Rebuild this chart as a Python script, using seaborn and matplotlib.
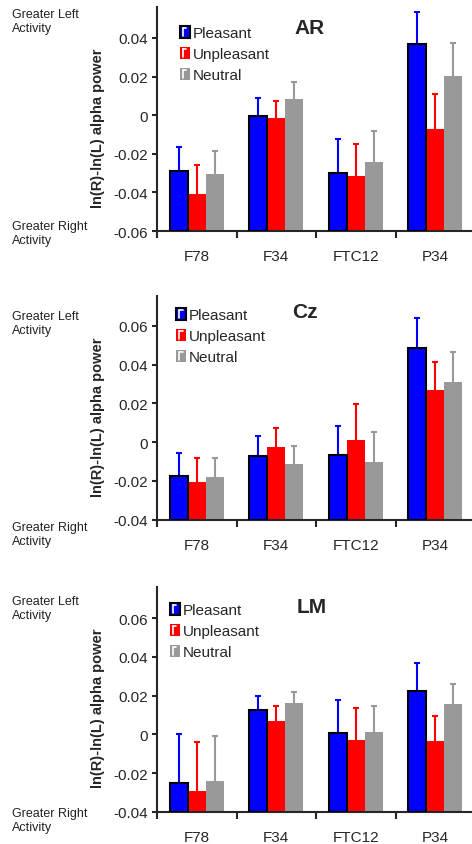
import numpy as np
import pandas as pd
import matplotlib
matplotlib.use("Agg")
import matplotlib.pyplot as plt
import seaborn as sns
from matplotlib.patches import Patch, Rectangle
from matplotlib.lines import Line2D
from matplotlib.legend_handler import HandlerBase
from matplotlib.ticker import FuncFormatter

# ---------------------------------------------------------------------------
# Data: bar means and standard errors
# rows = condition, cols = site
# ---------------------------------------------------------------------------

sites = ["F78", "F34", "FTC12", "P34"]
conditions = ["Pleasant", "Unpleasant", "Neutral"]
colors = ["#0000ff", "#ff0000", "#999999"]
panel_titles = ["AR", "Cz", "LM"]

ar_means = [[-0.0290, -0.0005, -0.0300, 0.0367],
            [-0.0407, -0.0014, -0.0314, -0.0071],
            [-0.0303, 0.0084, -0.0241, 0.0202]]
ar_se = [[0.0123, 0.0096, 0.0174, 0.0169],
         [0.0150, 0.0085, 0.0167, 0.0181],
         [0.0115, 0.0090, 0.0157, 0.0169]]

cz_means = [[-0.0173, -0.0070, -0.0065, 0.0485],
            [-0.0206, -0.0027, 0.0009, 0.0267],
            [-0.0182, -0.0115, -0.0104, 0.0308]]
cz_se = [[0.0115, 0.0103, 0.0150, 0.0155],
         [0.0126, 0.0101, 0.0187, 0.0147],
         [0.0102, 0.0096, 0.0156, 0.0158]]

lm_means = [[-0.0250, 0.0124, 0.0009, 0.0226],
            [-0.0295, 0.0069, -0.0031, -0.0036],
            [-0.0243, 0.0160, 0.0010, 0.0155]]
lm_se = [[0.0252, 0.0074, 0.0170, 0.0141],
         [0.0254, 0.0079, 0.0169, 0.0133],
         [0.0234, 0.0061, 0.0137, 0.0107]]

ar_yticks = [-0.06, -0.04, -0.02, 0, 0.02, 0.04]
cz_yticks = [-0.04, -0.02, 0, 0.02, 0.04, 0.06]
lm_yticks = [-0.04, -0.02, 0, 0.02, 0.04, 0.06]

ylabel = "ln(R)-ln(L) alpha power"


class BarHandle(HandlerBase):
    """Legend key: filled box with a small white error-bar mark inside."""

    def create_artists(self, legend, orig, xdescent, ydescent, width, height,
                       fontsize, trans):
        x0, y0 = -xdescent, -ydescent
        rect = Rectangle((x0, y0), width, height, facecolor=orig.get_facecolor(),
                         edgecolor=orig.get_edgecolor(), linewidth=orig.get_linewidth(),
                         transform=trans)
        xv = x0 + width * 0.3
        vline = Line2D([xv, xv], [y0 + height * 0.15, y0 + height * 0.8],
                       color="white", lw=1.2, transform=trans)
        cap = Line2D([xv, x0 + width * 0.65], [y0 + height * 0.8] * 2,
                     color="white", lw=1.2, transform=trans)
        return [rect, vline, cap]


# ---------------------------------------------------------------------------
# Layout (pixels in a 472x845 canvas)
# ---------------------------------------------------------------------------

W, H = 472, 845
panels = [
    dict(title="AR", means=ar_means, se=ar_se, yticks=ar_yticks, ylim=(-0.06, 0.056),
         top=8, bottom=232, title_xy=(0.481, 0.91), leg_xy=(0.072, 0.915),
         left_txt=22, right_txt=234),
    dict(title="Cz", means=cz_means, se=cz_se, yticks=cz_yticks, ylim=(-0.04, 0.0755),
         top=296.7, bottom=520.7, title_xy=(0.465, 0.93), leg_xy=(0.06, 0.945),
         left_txt=324, right_txt=535),
    dict(title="LM", means=lm_means, se=lm_se, yticks=lm_yticks, ylim=(-0.04, 0.076),
         top=588.3, bottom=812.7, title_xy=(0.487, 0.914), leg_xy=(0.04, 0.93),
         left_txt=609, right_txt=821),
]

sns.set_style("ticks")
plt.rcParams["font.family"] = ["Liberation Sans", "DejaVu Sans"]
plt.rcParams["axes.unicode_minus"] = False

fig = plt.figure(figsize=(W / 100, H / 100), dpi=100)

for p in panels:
    rect = [157 / W, (H - p["bottom"]) / H, 318 / W, (p["bottom"] - p["top"]) / H]
    ax = fig.add_axes(rect)
    ymin = p["ylim"][0]

    rows = []
    for ci, cond in enumerate(conditions):
        for si, site in enumerate(sites):
            rows.append(dict(site=site, cond=cond,
                             value=p["means"][ci][si], se=p["se"][ci][si]))
    df = pd.DataFrame(rows)
    # bars rise from the bottom of the axis, not from zero
    df["height"] = df["value"] - ymin

    sns.barplot(data=df, x="site", y="height", hue="cond", order=sites,
                hue_order=conditions, palette=colors, saturation=1, width=0.68,
                errorbar=None, legend=False, bottom=ymin, linewidth=0,
                ax=ax, zorder=2)

    # upward-only error bars with small caps
    for ci, (cond, cont) in enumerate(zip(conditions, ax.containers)):
        sub = df[df["cond"] == cond].set_index("site").loc[sites]
        xs = np.array([b.get_x() + b.get_width() / 2 for b in cont])
        tops = sub["value"].values + sub["se"].values
        ax.vlines(xs, sub["value"].values, tops, color=colors[ci], lw=1.5, zorder=1)
        ax.hlines(tops, xs - 0.038, xs + 0.038, color=colors[ci], lw=1.5, zorder=1)
        if ci == 0:
            for b in cont:
                b.set_edgecolor("black")
                b.set_linewidth(1.5)
                b.set_zorder(3)

    ax.set_xlim(-0.5, 3.5)
    ax.set_ylim(*p["ylim"])
    ax.set_yticks(p["yticks"])
    ax.yaxis.set_major_formatter(FuncFormatter(lambda v, pos: f"{v:g}"))
    ax.set_xticks(range(len(sites)))
    ax.set_xticklabels(sites)
    ax.set_xticks([-0.5, 0.5, 1.5, 2.5, 3.5], minor=True)
    ax.tick_params(axis="x", which="major", length=0, pad=13, labelsize=11)
    ax.tick_params(axis="x", which="minor", length=5, width=1.5, direction="out")
    ax.tick_params(axis="y", which="major", length=3.5, width=1.5, pad=3, labelsize=11)
    ax.set_xlabel("")
    ax.set_ylabel(ylabel, fontsize=10.5, fontweight="bold")
    ax.yaxis.set_label_coords(-0.164, 0.464)

    sns.despine(ax=ax)
    for s in ["left", "bottom"]:
        ax.spines[s].set_linewidth(1.5)

    ax.text(*p["title_xy"], p["title"], transform=ax.transAxes, ha="center",
            va="center", fontsize=15, fontweight="bold")

    handles = [Patch(facecolor=c, edgecolor="black" if i == 0 else c,
                     linewidth=1.5 if i == 0 else 0)
               for i, c in enumerate(colors)]
    ax.legend(handles, conditions, loc="upper left", bbox_to_anchor=p["leg_xy"],
              frameon=False, fontsize=11, handlelength=0.65, handleheight=0.85,
              handletextpad=0.2, labelspacing=0.42, borderaxespad=0, borderpad=0,
              handler_map={Patch: BarHandle()})

    fig.text(12 / W, 1 - p["left_txt"] / H, "Greater Left\nActivity", fontsize=9,
             ha="left", va="center", color="#222222", linespacing=1.15)
    fig.text(12 / W, 1 - p["right_txt"] / H, "Greater Right\nActivity", fontsize=9,
             ha="left", va="center", color="#222222", linespacing=1.15)

fig.savefig("out.png", dpi=100)
